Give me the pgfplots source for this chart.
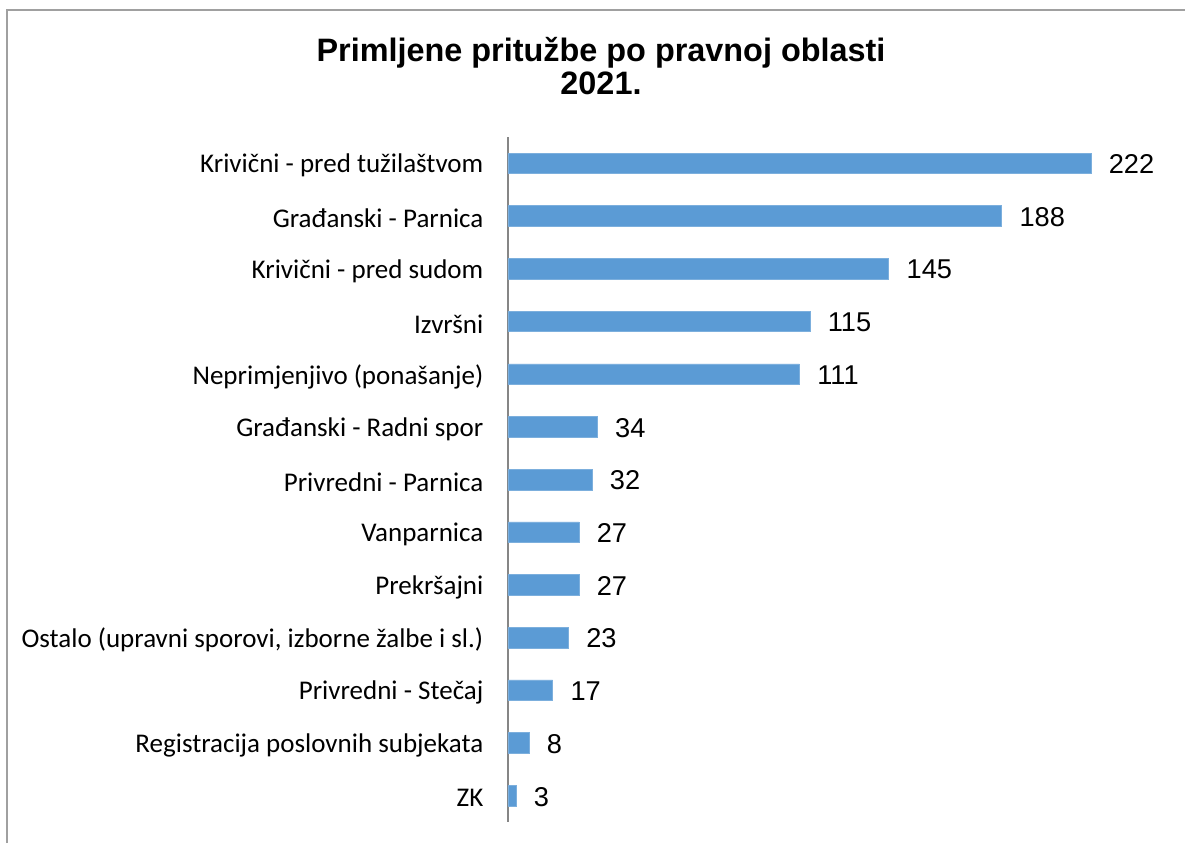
\documentclass[border=0pt]{standalone}
\usepackage{fontspec}
\setmainfont{Liberation Sans}
\newfontfamily\calibri{Carlito}
\usepackage{pgfplots}
\pgfplotsset{compat=1.18}
\definecolor{barblue}{HTML}{5B9BD5}
\definecolor{axgray}{HTML}{868686}
\definecolor{framegray}{HTML}{A0A0A0}
\begin{document}
\begin{tikzpicture}
\path[use as bounding box] (0,0) rectangle (592.5pt,421.5pt);
\draw[framegray, line width=1pt] (3.5pt,0) -- (3.5pt,416.5pt) -- (592.5pt,416.5pt);
\node[anchor=base, font=\fontsize{16.2}{19}\selectfont\bfseries, inner sep=0pt] at (300.5pt,390.5pt) {Primljene pritužbe po pravnoj oblasti};
\node[anchor=base, font=\fontsize{16.2}{19}\selectfont\bfseries, inner sep=0pt] at (300.5pt,374pt) {2021.};
\begin{axis}[
  at={(254pt,10.5pt)}, anchor=south west,
  scale only axis, width=328.25pt, height=342.5pt,
  xbar, bar width=10.3pt,
  xmin=0, xmax=250,
  ymin=-0.5, ymax=12.5, y dir=reverse,
  axis x line=none, axis y line=left,
  axis line style={-, draw=axgray, line width=0.8pt},
  ytick={0,...,12},
  yticklabels={Krivični - pred tužilaštvom, Građanski - Parnica, Krivični - pred sudom, Izvršni, Neprimjenjivo (ponašanje), Građanski - Radni spor, Privredni - Parnica, Vanparnica, Prekršajni, {Ostalo (upravni sporovi, izborne žalbe i sl.)}, Privredni - Stečaj, Registracija poslovnih subjekata, ZK},
  yticklabel style={font=\calibri\fontsize{13.5}{16}\selectfont, inner sep=0pt, xshift=-10pt, yshift=-1.2pt},
  ytick style={draw=none},
  /pgf/number format/assume math mode=true,
  nodes near coords,
  nodes near coords align={horizontal},
  every node near coord/.append style={font=\fontsize{13.6}{16}\selectfont, anchor=west, inner sep=0pt, xshift=8.8pt, yshift=-0.5pt, text=black},
  clip=false,
]
\addplot[fill=barblue, draw=barblue!80!white, line width=0.3pt] coordinates {
(222,0) (188,1) (145,2) (115,3) (111,4) (34,5) (32,6) (27,7) (27,8) (23,9) (17,10) (8,11) (3,12)
};
\end{axis}
\end{tikzpicture}
\end{document}
